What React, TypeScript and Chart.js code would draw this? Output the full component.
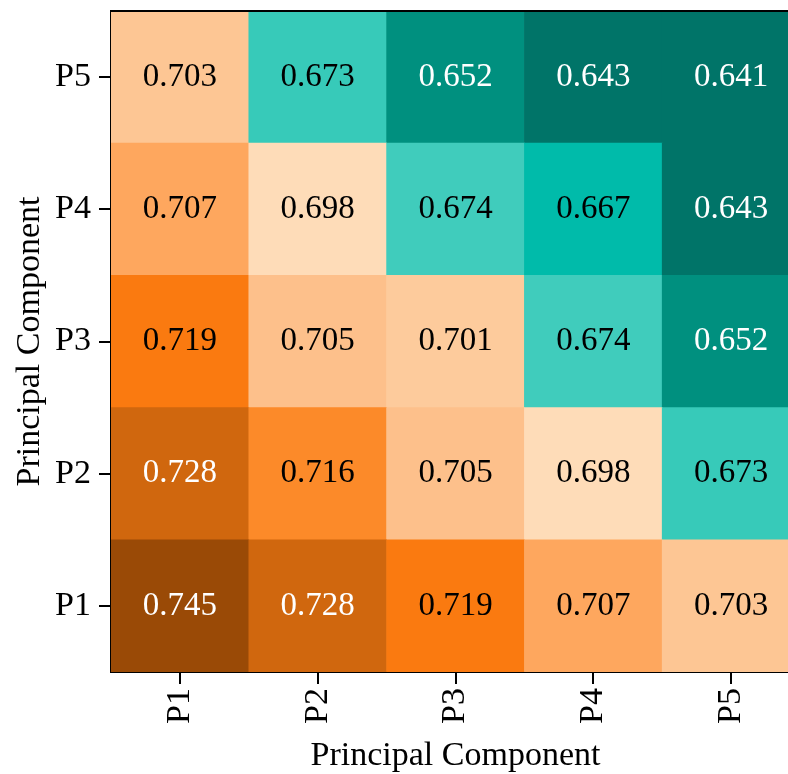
import React, { useEffect, useRef } from "react";
import { Chart, registerables } from "chart.js";

Chart.register(...registerables);

const xLabels = ["P1", "P2", "P3", "P4", "P5"];
const yLabels = ["P1", "P2", "P3", "P4", "P5"];
const axisTitle = "Principal Component";

// rows from bottom (P1) to top (P5); columns P1..P5
const rowP1 = [0.745, 0.728, 0.719, 0.707, 0.703];
const rowP2 = [0.728, 0.716, 0.705, 0.698, 0.673];
const rowP3 = [0.719, 0.705, 0.701, 0.674, 0.652];
const rowP4 = [0.707, 0.698, 0.674, 0.667, 0.643];
const rowP5 = [0.703, 0.673, 0.652, 0.643, 0.641];
const rows = [rowP1, rowP2, rowP3, rowP4, rowP5];

// colour scale stops
const stopValues = [0.641, 0.643, 0.652, 0.667, 0.674, 0.698, 0.701, 0.705, 0.707, 0.716, 0.719, 0.728, 0.745];
const stopColors = ["#007468", "#007468", "#00907f", "#00bbaa", "#40ccbc", "#fedcb8", "#fdcb9c", "#fdc08b", "#fea75e", "#fc8a29", "#fa7a10", "#d0670e", "#9a4a06"];

function hexToRgb(h: string) {
  const n = parseInt(h.slice(1), 16);
  return [(n >> 16) & 255, (n >> 8) & 255, n & 255];
}

function colorFor(v: number) {
  if (v <= stopValues[0]) return stopColors[0];
  for (let i = 1; i < stopValues.length; i++) {
    if (v <= stopValues[i]) {
      const t = (v - stopValues[i - 1]) / (stopValues[i] - stopValues[i - 1]);
      const a = hexToRgb(stopColors[i - 1]);
      const b = hexToRgb(stopColors[i]);
      const c = a.map((x, k) => Math.round(x + (b[k] - x) * t));
      return `rgb(${c[0]},${c[1]},${c[2]})`;
    }
  }
  return stopColors[stopColors.length - 1];
}

function textColorFor(v: number) {
  return v < 0.66 || v > 0.725 ? "#ffffff" : "#000000";
}

const FONT = "'Liberation Serif', 'Times New Roman', serif";

export default function App() {
  const ref = useRef<HTMLCanvasElement | null>(null);

  useEffect(() => {
    document.body.style.margin = "0";
    const canvas = ref.current;
    if (!canvas) return;

    const labelPlugin = {
      id: "cellLabels",
      afterDatasetsDraw(chart: any) {
        const ctx = chart.ctx;
        ctx.save();
        ctx.font = `33px ${FONT}`;
        ctx.textAlign = "center";
        ctx.textBaseline = "middle";
        chart.data.datasets.forEach((ds: any, di: number) => {
          const meta = chart.getDatasetMeta(di);
          meta.data.forEach((el: any, i: number) => {
            const v = ds.values[i];
            ctx.fillStyle = textColorFor(v);
            ctx.fillText(v.toFixed(3), el.x, (el.y + el.base) / 2);
          });
        });
        ctx.restore();
      },
      afterDraw(chart: any) {
        const { ctx, chartArea } = chart;
        ctx.save();
        ctx.strokeStyle = "#000";
        ctx.lineWidth = 2;
        ctx.beginPath();
        ctx.moveTo(chartArea.left - 1, chartArea.top);
        ctx.lineTo(chartArea.right, chartArea.top);
        ctx.stroke();
        ctx.restore();
      },
    };

    const chart = new Chart(canvas, {
      type: "bar",
      data: {
        labels: xLabels,
        datasets: rows.map((row, j) => ({
          label: yLabels[j],
          data: row.map(() => 1),
          values: row,
          backgroundColor: row.map(colorFor),
          borderWidth: 0,
          barPercentage: 1,
          categoryPercentage: 1,
        })) as any,
      },
      options: {
        responsive: false,
        animation: false,
        devicePixelRatio: 1,
        layout: { padding: { left: 0, top: 11, right: 30, bottom: 0 } },
        plugins: { legend: { display: false }, tooltip: { enabled: false } },
        scales: {
          x: {
            stacked: true,
            offset: true,
            grid: { offset: false, drawOnChartArea: false, drawTicks: true, tickLength: 12, color: "#000", lineWidth: 2 },
            border: { display: true, color: "#000", width: 2 },
            ticks: { font: { family: FONT, size: 34 }, color: "#000", maxRotation: 90, minRotation: 90, padding: 4 },
            title: { display: true, text: axisTitle, font: { family: FONT, size: 34 }, color: "#000", padding: { top: 0, bottom: -2 } },
            afterFit: (s: any) => { s.height = 102; s.paddingLeft = 0; s.paddingRight = 0; },
          },
          y: {
            stacked: true,
            min: 0,
            max: 5,
            grid: { drawOnChartArea: false, drawTicks: true, tickLength: 12, color: "#000", lineWidth: 2 },
            border: { display: true, color: "#000", width: 2 },
            afterBuildTicks: (s: any) => { s.ticks = [0.5, 1.5, 2.5, 3.5, 4.5].map((v) => ({ value: v })); },
            ticks: {
              font: { family: FONT, size: 34 },
              color: "#000",
              padding: 8,
              callback: (v: any) => yLabels[Math.round(Number(v) - 0.5)],
            },
            title: { display: true, text: axisTitle, font: { family: FONT, size: 34 }, color: "#000", padding: { top: 10, bottom: 0 } },
            afterFit: (s: any) => { s.width = 111; s.paddingTop = 0; s.paddingBottom = 0; },
          },
        },
      } as any,
      plugins: [labelPlugin],
    });
    return () => chart.destroy();
  }, []);

  return (
    <div style={{ width: 788, height: 774, overflow: "hidden" }}>
      <canvas ref={ref} width={830} height={774} style={{ display: "block" }} />
    </div>
  );
}
